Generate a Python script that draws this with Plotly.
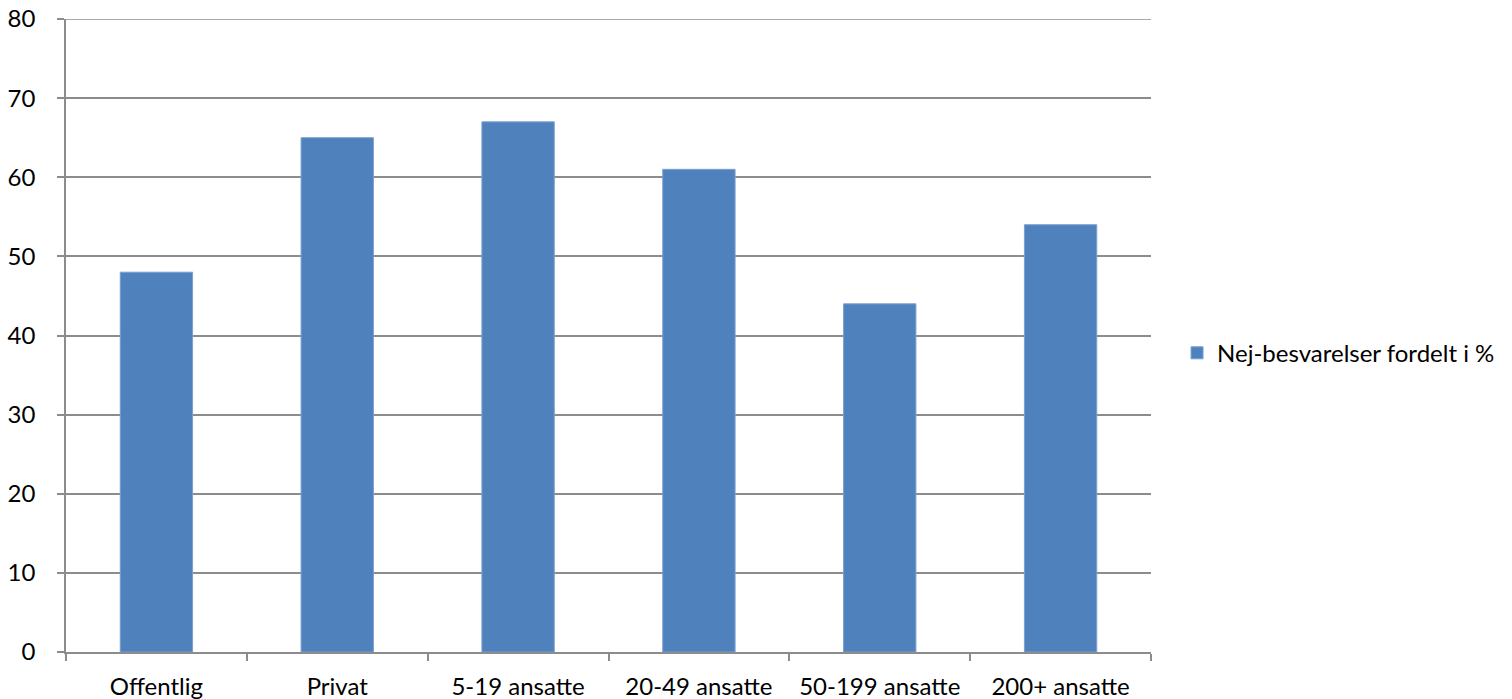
import plotly.graph_objects as go

categories = ["Offentlig", "Privat", "5-19 ansatte", "20-49 ansatte", "50-199 ansatte", "200+ ansatte"]
values = [48, 65, 67, 61, 44, 54]
series_name = "Nej-besvarelser fordelt i %"
y_ticks = [0, 10, 20, 30, 40, 50, 60, 70, 80]

fig = go.Figure()
fig.add_trace(go.Bar(
    x=categories,
    y=values,
    name=series_name,
    marker=dict(color="#4F81BD", line=dict(color="#7A9FD0", width=1)),
    showlegend=True,
))

axis_color = "#8C8C8C"
font_family = "Lato, Open Sans, Liberation Sans, sans-serif"
font_size = 24

fig.update_layout(
    width=1512,
    height=699,
    margin=dict(l=66, r=358, t=19, b=47),
    paper_bgcolor="white",
    plot_bgcolor="white",
    bargap=0.6,
    font=dict(family=font_family, size=font_size, color="#000000"),
    legend=dict(
        x=1.024, y=0.472, xanchor="left", yanchor="middle",
        font=dict(size=font_size),
        itemwidth=30,
    ),
    xaxis=dict(
        type="category",
        automargin=False,
        showline=True, linecolor=axis_color, linewidth=1.5,
        ticks="outside", tickson="boundaries", ticklen=7, tickcolor=axis_color, tickwidth=1.5,
        showgrid=False,
        tickfont=dict(size=font_size),
        ticklabelstandoff=12,
    ),
    yaxis=dict(
        range=[0, 80],
        tickvals=y_ticks,
        automargin=False,
        showline=True, linecolor=axis_color, linewidth=1.5,
        ticks="outside", ticklen=7, tickcolor=axis_color, tickwidth=1.5,
        showgrid=True, gridcolor=axis_color, gridwidth=1.5,
        zeroline=False,
        tickfont=dict(size=font_size),
        ticklabelstandoff=17,
    ),
)

# top gridline at the upper end of the value range
fig.add_shape(type="line", xref="paper", yref="y", x0=0, x1=1, y0=80, y1=80,
              line=dict(color=axis_color, width=1.5), layer="below")

fig.write_html("out.html")
